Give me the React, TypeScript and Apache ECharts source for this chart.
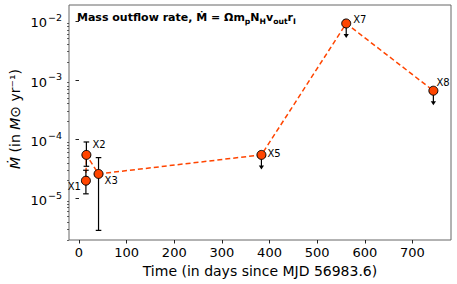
import React, { useEffect, useRef } from "react";
import * as echarts from "echarts";

const epochs = ["X1", "X2", "X3", "X5", "X7", "X8"];
const days = [14.5, 15.5, 41, 383, 561, 744];
const mdot = [2.0e-5, 5.45e-5, 2.6e-5, 5.45e-5, 9.0e-3, 6.6e-4];
const errLow: (number | null)[] = [1.2e-5, 3.5e-5, 2.9e-6, null, null, null];
const errHigh: (number | null)[] = [3.0e-5, 9.0e-5, 4.9e-5, null, null, null];
const upperLimit = [false, false, false, true, true, true];

const xTicks = [0, 100, 200, 300, 400, 500, 600, 700];
const yMajorTicks = [1e-5, 1e-4, 1e-3, 1e-2];
const yMin = 1.995e-6;
const yMax = 0.01845;
const xMin = -21;
const xMax = 781;

const yMinorTicks: number[] = [];
for (let d = -6; d <= -2; d++) {
  for (let k = 2; k <= 9; k++) {
    const v = k * Math.pow(10, d);
    if (v >= yMin && v <= yMax) yMinorTicks.push(v);
  }
}

// label placement (style only)
const labelPlacement: Record<string, any> = {
  X1: { position: "left", distance: 0, offset: [0, 6] },
  X2: { position: "right", distance: 1, offset: [0, -10] },
  X3: { position: "right", distance: 1, offset: [0, 7] },
  X5: { position: "right", distance: 1, offset: [0, -1] },
  X7: { position: "right", distance: 2, offset: [0, -4] },
  X8: { position: "right", distance: -2, offset: [0, -8] },
};

const FONT = "DejaVu Sans";
const ORANGE = "#ff4500";

export default function App() {
  const ref = useRef<HTMLDivElement>(null);
  useEffect(() => {
    document.body.style.margin = "0";
    if (!ref.current) return;
    const chart = echarts.init(ref.current, null, { renderer: "svg" });

    const lineData = days.map((d, i) => [d, mdot[i]]);
    const errData = days
      .map((d, i) => (errLow[i] != null ? [d, errLow[i], errHigh[i]] : null))
      .filter((v) => v != null);
    const limData = days
      .map((d, i) => (upperLimit[i] ? [d, mdot[i]] : null))
      .filter((v) => v != null);
    const scatterData = days.map((d, i) => ({
      value: [d, mdot[i]],
      name: epochs[i],
      label: {
        show: true,
        formatter: epochs[i],
        ...labelPlacement[epochs[i]],
      },
    }));

    const option: any = {
      animation: false,
      grid: {
        left: 69,
        right: 6,
        top: 5,
        bottom: 44,
        show: true,
        borderColor: "#666",
        borderWidth: 1,
        backgroundColor: "transparent",
      },
      xAxis: {
        type: "value",
        min: xMin,
        max: xMax,
        name: "Time (in days since MJD 56983.6)",
        nameLocation: "middle",
        nameGap: 23,
        nameTextStyle: { fontFamily: FONT, fontSize: 14, color: "#000" },
        axisLine: { show: false },
        axisTick: {
          show: true,
          customValues: xTicks,
          length: 3.5,
          lineStyle: { color: "#222", width: 1 },
        },
        axisLabel: {
          customValues: xTicks,
          fontFamily: FONT,
          fontSize: 13,
          color: "#000",
          margin: 6,
        },
        splitLine: { show: false },
      },
      yAxis: [
        {
          type: "log",
          logBase: 10,
          min: yMin,
          max: yMax,
          axisLine: { show: false },
          axisTick: {
            show: true,
            customValues: yMajorTicks,
            length: 3.5,
            lineStyle: { color: "#222", width: 1 },
          },
          axisLabel: {
            customValues: yMajorTicks,
            margin: 7,
            formatter: (v: number) => {
              const e = Math.round(Math.log10(v));
              const s = e < 0 ? "−" + Math.abs(e) : String(e);
              return "{b|10}{s|" + s + "}";
            },
            rich: {
              b: { fontFamily: FONT, fontSize: 13, color: "#000", lineHeight: 17, verticalAlign: "bottom" },
              s: { fontFamily: FONT, fontSize: 9.5, color: "#000", lineHeight: 17, verticalAlign: "top", padding: [0, 0, 0, 1] },
            },
          },
          splitLine: { show: false },
        },
        {
          type: "log",
          logBase: 10,
          min: yMin,
          max: yMax,
          position: "left",
          axisLine: { show: false },
          axisLabel: { show: false },
          axisTick: {
            show: true,
            customValues: yMinorTicks,
            length: 2,
            lineStyle: { color: "#222", width: 0.7 },
          },
          splitLine: { show: false },
        },
      ],
      graphic: [
        {
          type: "text",
          left: 77,
          top: 12,
          z: 10,
          style: {
            text: "Mass outflow rate, Ṁ = Ωm{s|p}N{s|H}v{s|out}r{s|I}",
            fontFamily: FONT,
            fontSize: 11,
            fontWeight: "bold",
            fill: "#000",
            rich: {
              s: {
                fontFamily: FONT,
                fontSize: 7.7,
                fontWeight: "bold",
                fill: "#000",
                verticalAlign: "bottom",
                lineHeight: 16,
              },
            },
          },
        },
        {
          type: "text",
          x: 15,
          y: 119,
          rotation: Math.PI / 2,
          z: 10,
          style: {
            text: "{d|Ṁ} (in {i|M}{o|⊙} yr⁻¹)",
            fontFamily: FONT,
            fontSize: 14,
            fill: "#000",
            align: "center",
            verticalAlign: "middle",
            rich: {
              d: { fontFamily: FONT, fontSize: 14, fontStyle: "italic", fill: "#000" },
              i: { fontFamily: FONT, fontSize: 14, fontStyle: "italic", fill: "#000" },
              o: { fontFamily: FONT, fontSize: 14, fill: "#000" },
            },
          },
        },
      ],
      series: [
        {
          type: "line",
          data: lineData,
          yAxisIndex: 0,
          symbol: "none",
          lineStyle: { color: ORANGE, width: 1.5, type: [5, 3] },
          z: 2,
          silent: true,
        },
        {
          type: "custom",
          data: errData,
          yAxisIndex: 0,
          encode: { x: 0, y: [1, 2] },
          z: 3,
          silent: true,
          renderItem: (params: any, api: any) => {
            const x = api.value(0);
            const lo = api.coord([x, api.value(1)]);
            const hi = api.coord([x, api.value(2)]);
            const style = { stroke: "#000", lineWidth: 1.2 };
            const cw = 2.8;
            return {
              type: "group",
              children: [
                { type: "line", shape: { x1: lo[0], y1: lo[1], x2: hi[0], y2: hi[1] }, style },
                { type: "line", shape: { x1: lo[0] - cw, y1: lo[1], x2: lo[0] + cw, y2: lo[1] }, style },
                { type: "line", shape: { x1: hi[0] - cw, y1: hi[1], x2: hi[0] + cw, y2: hi[1] }, style },
              ],
            };
          },
        },
        {
          type: "custom",
          data: limData,
          yAxisIndex: 0,
          encode: { x: 0, y: 1 },
          z: 3,
          silent: true,
          renderItem: (params: any, api: any) => {
            const p = api.coord([api.value(0), api.value(1)]);
            const len = 14.5;
            return {
              type: "group",
              children: [
                {
                  type: "line",
                  shape: { x1: p[0], y1: p[1], x2: p[0], y2: p[1] + len - 2 },
                  style: { stroke: "#000", lineWidth: 1.2 },
                },
                {
                  type: "polygon",
                  shape: {
                    points: [
                      [p[0] - 2.6, p[1] + len - 4],
                      [p[0] + 2.6, p[1] + len - 4],
                      [p[0], p[1] + len],
                    ],
                  },
                  style: { fill: "#000" },
                },
              ],
            };
          },
        },
        {
          type: "scatter",
          data: scatterData,
          yAxisIndex: 0,
          symbol: "circle",
          symbolSize: 9,
          itemStyle: { color: ORANGE, borderColor: "#000", borderWidth: 1, opacity: 1 },
          label: { fontFamily: FONT, fontSize: 10, color: "#000" },
          z: 4,
          silent: true,
        },
      ],
    };
    chart.setOption(option);
    return () => chart.dispose();
  }, []);
  return <div ref={ref} style={{ width: 457, height: 284 }} />;
}
